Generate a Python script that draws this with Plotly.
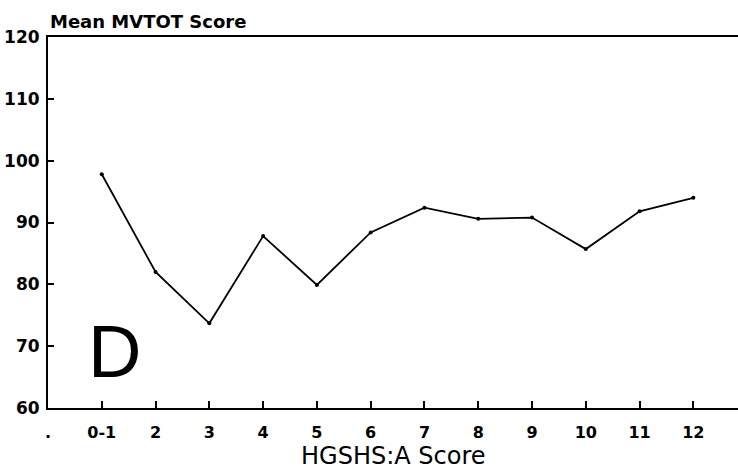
import plotly.graph_objects as go

categories = [".", "0-1", "2", "3", "4", "5", "6", "7", "8", "9", "10", "11", "12"]
x_points = ["0-1", "2", "3", "4", "5", "6", "7", "8", "9", "10", "11", "12"]
mean_mvtot = [97.8, 82.0, 73.7, 87.8, 79.9, 88.4, 92.4, 90.6, 90.8, 85.7, 91.8, 94.0]
y_ticks = [60, 70, 80, 90, 100, 110, 120]

fig = go.Figure()
fig.add_trace(go.Scatter(
    x=x_points, y=mean_mvtot, mode="lines+markers",
    line=dict(color="black", width=1.8),
    marker=dict(color="black", size=4),
    showlegend=False, cliponaxis=False,
))

fig.update_layout(
    width=738, height=470,
    margin=dict(l=48, r=0, t=37, b=62, autoexpand=False),
    paper_bgcolor="white", plot_bgcolor="white",
    font=dict(family="DejaVu Sans", color="black"),
    xaxis=dict(
        type="category", categoryorder="array", categoryarray=categories,
        tickmode="array", tickvals=categories, ticktext=categories,
        range=[0, 12.83], automargin=False,
        showline=True, linecolor="black", linewidth=2, mirror=True,
        ticks="inside", ticklen=7, tickwidth=1.5, tickcolor="black",
        ticklabelstandoff=9,
        showgrid=False, zeroline=False,
        tickfont=dict(family="DejaVu Sans", size=16, color="black", weight="bold"),
    ),
    yaxis=dict(
        range=[60, 120], tickvals=y_ticks, automargin=False,
        showline=True, linecolor="black", linewidth=2,
        ticks="inside", ticklen=6, tickwidth=1.5, tickcolor="black",
        ticklabelstandoff=3,
        showgrid=False, zeroline=False,
        tickfont=dict(family="DejaVu Sans", size=17, color="black", weight="bold"),
    ),
    annotations=[
        dict(text="Mean MVTOT Score", xref="paper", yref="paper", x=0, y=1,
             xanchor="left", yanchor="bottom", yshift=3, showarrow=False,
             font=dict(family="DejaVu Sans", size=18, color="black", weight="bold")),
        dict(text="HGSHS:A Score", xref="paper", yref="paper", x=0.5, y=0,
             xanchor="center", yanchor="top", yshift=-32, showarrow=False,
             font=dict(family="DejaVu Sans", size=24, color="black")),
        dict(text="D", xref="x", yref="y", x=1.23, y=69.1,
             xanchor="center", yanchor="middle", showarrow=False,
             font=dict(family="Liberation Sans", size=74, color="black")),
    ],
)

fig.write_html(
    "out.html",
    config={"responsive": False, "displayModeBar": False},
    post_script="document.body.style.margin='0';document.body.style.overflow='hidden';",
)
